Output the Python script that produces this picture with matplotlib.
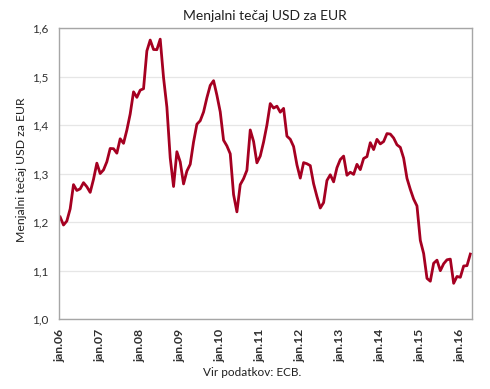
import matplotlib
matplotlib.use("Agg")
import matplotlib.pyplot as plt

plt.rcParams['font.family'] = ['Lato', 'DejaVu Sans']

rates_2006 = [1.2103, 1.1938, 1.2020, 1.2271, 1.2770, 1.2650, 1.2684, 1.2811, 1.2727, 1.2611, 1.2881, 1.3213]
rates_2007 = [1.2999, 1.3074, 1.3242, 1.3516, 1.3511, 1.3419, 1.3716, 1.3622, 1.3896, 1.4227, 1.4684, 1.4570]
rates_2008 = [1.4718, 1.4748, 1.5527, 1.5751, 1.5557, 1.5553, 1.5770, 1.4975, 1.4370, 1.3322, 1.2732, 1.3449]
rates_2009 = [1.3239, 1.2785, 1.3050, 1.3190, 1.3650, 1.4016, 1.4088, 1.4268, 1.4562, 1.4816, 1.4914, 1.4614]
rates_2010 = [1.4272, 1.3686, 1.3569, 1.3406, 1.2565, 1.2209, 1.2770, 1.2894, 1.3067, 1.3898, 1.3661, 1.3220]
rates_2011 = [1.3360, 1.3649, 1.3999, 1.4442, 1.4349, 1.4388, 1.4264, 1.4343, 1.3770, 1.3706, 1.3556, 1.3179]
rates_2012 = [1.2905, 1.3224, 1.3201, 1.3162, 1.2789, 1.2526, 1.2288, 1.2400, 1.2856, 1.2974, 1.2828, 1.3119]
rates_2013 = [1.3288, 1.3359, 1.2964, 1.3026, 1.2982, 1.3189, 1.3080, 1.3310, 1.3348, 1.3635, 1.3493, 1.3704]
rates_2014 = [1.3610, 1.3659, 1.3823, 1.3813, 1.3732, 1.3592, 1.3539, 1.3316, 1.2901, 1.2673, 1.2472, 1.2331]
rates_2015 = [1.1621, 1.1350, 1.0838, 1.0779, 1.1150, 1.1213, 1.0996, 1.1139, 1.1221, 1.1235, 1.0736, 1.0877]
rates_2016 = [1.0860, 1.1093, 1.1100, 1.1339]

rates = (rates_2006 + rates_2007 + rates_2008 + rates_2009 + rates_2010 + rates_2011
         + rates_2012 + rates_2013 + rates_2014 + rates_2015 + rates_2016)

tick_labels = ['jan.06', 'jan.07', 'jan.08', 'jan.09', 'jan.10', 'jan.11',
               'jan.12', 'jan.13', 'jan.14', 'jan.15', 'jan.16']
y_ticks = [1.0, 1.1, 1.2, 1.3, 1.4, 1.5, 1.6]

title = 'Menjalni tečaj USD za EUR'
ylabel = 'Menjalni tečaj USD za EUR'
source = 'Vir podatkov: ECB.'

fig = plt.figure(figsize=(4.9, 3.89), dpi=100)
ax = fig.add_axes([58.5/490, 1 - 319/389, (472 - 58.5)/490, (319 - 28)/389])

n = len(rates)
ax.plot(range(n), rates, color='#A50021', lw=2.0, solid_joinstyle='round')
ax.set_xlim(-0.5, n - 0.5)
ax.set_ylim(1.0, 1.6)

ax.set_yticks(y_ticks)
ax.set_yticklabels([f"{v:.1f}".replace('.', ',') for v in y_ticks], fontsize=8.5, color='#303030')
ax.set_xticks([12 * i for i in range(len(tick_labels))])
ax.set_xticklabels(tick_labels, rotation=90, fontsize=8.8, fontweight='bold', color='#303030')
ax.tick_params(axis='y', length=0, pad=7)
ax.tick_params(axis='x', length=0, pad=7)

ax.grid(axis='y', color='#E6E6E6', lw=0.9)
ax.set_axisbelow(True)
for s in ax.spines.values():
    s.set_color('#A6A6A6')
    s.set_linewidth(1.0)

ax.set_title(title, fontsize=10, color='#202020', pad=6)
fig.text(22/490, 1 - 170/389, ylabel, rotation=90, ha='center', va='center', fontsize=8.8, color='#202020')
fig.text(252/490, 1 - 373/389, source, ha='center', va='center', fontsize=8.5, color='#202020')

fig.savefig('out.png', dpi=100)
